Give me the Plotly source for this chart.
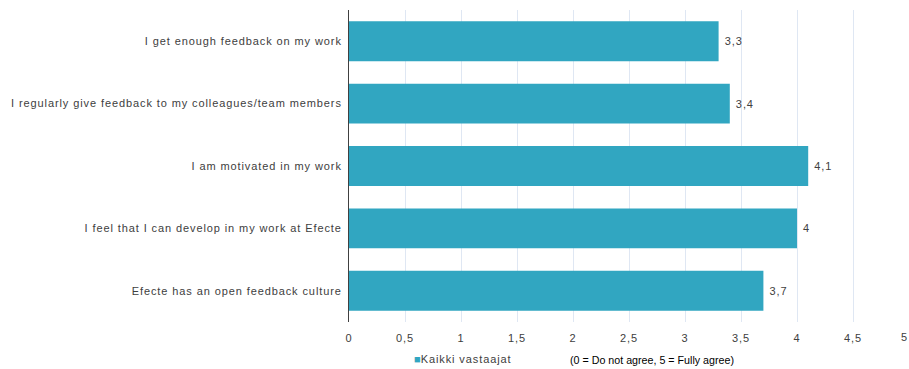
import plotly.graph_objects as go

categories = [
    "I get enough feedback on my work",
    "I regularly give feedback to my colleagues/team members",
    "I am motivated in my work",
    "I feel that I can develop in my work at Efecte",
    "Efecte has an open feedback culture",
]
values = [3.3, 3.4, 4.1, 4.0, 3.7]
value_labels = ["3,3", "3,4", "4,1", "4", "3,7"]
x_ticks = [0, 0.5, 1, 1.5, 2, 2.5, 3, 3.5, 4, 4.5, 5]
x_tick_labels = ["0", "0,5", "1", "1,5", "2", "2,5", "3", "3,5", "4", "4,5", "5"]
series_name = "Kaikki vastaajat"
note = "(0 = Do not agree, 5 = Fully agree)"

bar_color = "#31a6c1"
font_family = "Liberation Sans, Arial, sans-serif"
LS = "letter-spacing:0.9px"


def spaced(s):
    return f"<span style='{LS}'>{s}</span>"


fig = go.Figure()
fig.add_trace(go.Bar(
    y=categories,
    x=values,
    orientation="h",
    marker=dict(color=bar_color, line=dict(width=0)),
    text=[spaced(t) for t in value_labels],
    texttemplate=" %{text}",
    textposition="outside",
    textfont=dict(size=11, color="#404040", family=font_family),
    cliponaxis=False,
    name=series_name,
    showlegend=False,
))

fig.update_layout(
    width=909, height=369,
    margin=dict(l=349, r=0, t=10, b=47),
    paper_bgcolor="white",
    plot_bgcolor="white",
    bargap=0.36,
    font=dict(family=font_family, size=11, color="#404040"),
    xaxis=dict(
        range=[0, 5],
        tickvals=x_ticks,
        ticktext=[spaced(t) for t in x_tick_labels],
        showgrid=True,
        gridcolor="#dfe7f3",
        gridwidth=1,
        zeroline=False,
        showline=False,
        ticks="",
        ticklabelstandoff=8,
        tickfont=dict(size=11, color="#404040"),
        fixedrange=True,
    ),
    yaxis=dict(
        autorange="reversed",
        showline=True,
        linecolor="#404040",
        linewidth=1,
        ticks="",
        ticklabelstandoff=4,
        tickvals=categories,
        ticktext=[spaced(c) for c in categories],
        tickfont=dict(size=11, color="#404040"),
        showgrid=False,
    ),
    annotations=[
        dict(
            x=412, y=359, xref="paper", yref="paper",
            text=f"<span style='color:{bar_color}'>■</span>{spaced(series_name)}",
            showarrow=False, xanchor="left", yanchor="middle",
            font=dict(size=11, color="#404040"),
        ),
        dict(
            x=568, y=360, xref="paper", yref="paper",
            text=note,
            showarrow=False, xanchor="left", yanchor="middle",
            font=dict(size=10.7, color="#000000"),
        ),
        dict(
            x=909, y=337, xref="paper", yref="paper",
            text=x_tick_labels[-1],
            showarrow=False, xanchor="right", yanchor="middle",
            font=dict(size=11, color="#404040"),
        ),
    ],
)

# convert pixel positions of annotations to paper coordinates
plot_w = 909 - 349
plot_h = 369 - 10 - 47
for ann in fig.layout.annotations:
    px, py = ann.x, ann.y
    ann.x = (px - 349) / plot_w
    ann.y = (369 - 47 - py) / plot_h

fig.write_html("out.html")
